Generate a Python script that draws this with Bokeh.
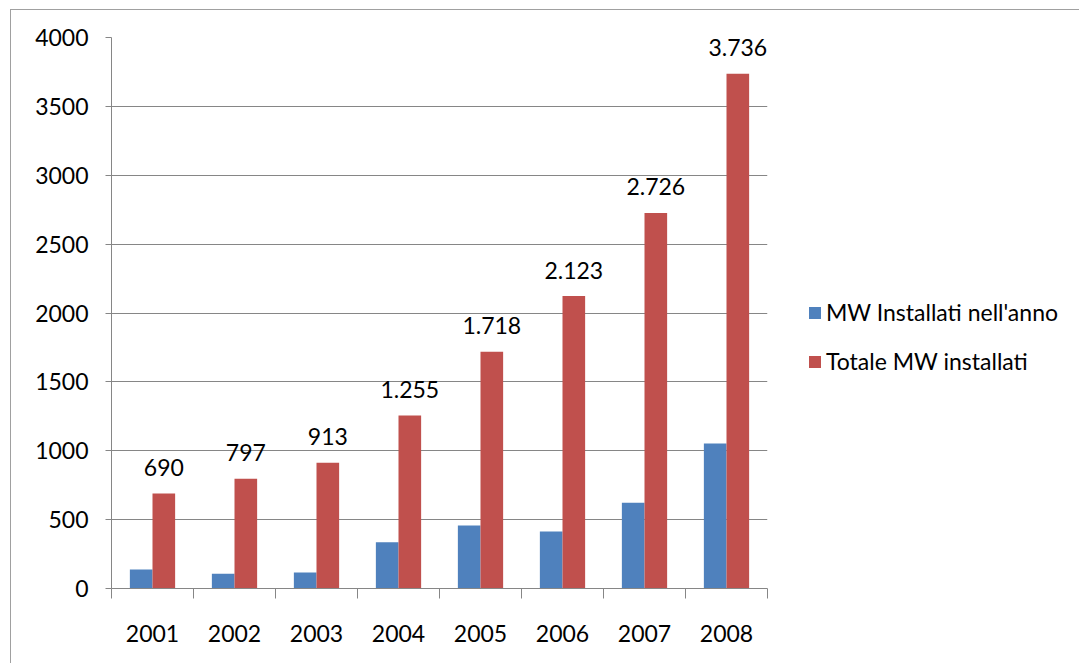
from bokeh.plotting import figure
from bokeh.models import ColumnDataSource, FixedTicker, Legend, LegendItem, Range1d
from bokeh.transform import dodge
from bokeh.core.properties import value
from bokeh.embed import file_html
from bokeh.resources import INLINE

years = ["2001", "2002", "2003", "2004", "2005", "2006", "2007", "2008"]
installed_year = [138, 107, 116, 336, 457, 414, 622, 1052]
total_installed = [690, 797, 913, 1255, 1718, 2123, 2726, 3736]
series_names = ["MW Installati nell'anno", "Totale MW installati"]
y_ticks = [0, 500, 1000, 1500, 2000, 2500, 3000, 3500, 4000]

FONT = "Lato"
FS = "23px"
BLUE = "#4F81BD"
RED = "#C0504D"
GRAY = "#868686"

xpos = [i + 0.5 for i in range(len(years))]
src = ColumnDataSource(dict(
    x=xpos,
    year=years,
    inst=installed_year,
    tot=total_installed,
    lab=[f"{v:,}".replace(",", ".") for v in total_installed],
))

p = figure(
    frame_width=656, frame_height=551,
    x_range=Range1d(0, len(years)), y_range=Range1d(0, 4000),
    output_backend="svg", toolbar_location=None,
    min_border_left=100, min_border_top=27, min_border_right=312, min_border_bottom=75,
    background_fill_color="white", border_fill_color="white",
)
p.styles = {"margin-left": "10px", "margin-top": "9px",
            "border-top": "1px solid #a0a0a0", "border-left": "1px solid #a0a0a0"}
p.outline_line_color = None

bw = 0.276
r1 = p.vbar(x=dodge("x", -bw / 2, range=p.x_range), top="inst", width=bw, source=src,
            fill_color=BLUE, line_color=None)
r2 = p.vbar(x=dodge("x", bw / 2, range=p.x_range), top="tot", width=bw, source=src,
            fill_color=RED, line_color=None)
p.text(x=dodge("x", bw / 2, range=p.x_range), y="tot", text="lab", source=src,
       text_align="center", text_baseline="middle", y_offset=-26,
       text_font=value(FONT), text_font_size=FS, text_color="black")

# axes
p.xaxis.ticker = FixedTicker(ticks=xpos, minor_ticks=list(range(len(years) + 1)))
p.xaxis.major_label_overrides = {x: y for x, y in zip(xpos, years)}
p.xaxis.major_tick_line_color = None
p.xaxis.major_tick_out = 0
p.xaxis.major_tick_in = 0
p.xaxis.minor_tick_out = 10
p.xaxis.minor_tick_in = 0
p.xaxis.minor_tick_line_color = GRAY
p.xaxis.axis_line_color = GRAY
p.xaxis.major_label_standoff = 26
p.xaxis.major_label_text_font = FONT
p.xaxis.major_label_text_font_size = FS
p.xaxis.major_label_text_color = "black"

p.yaxis.ticker = FixedTicker(ticks=y_ticks)
p.yaxis.minor_tick_line_color = None
p.yaxis.major_tick_out = 6
p.yaxis.major_tick_in = 0
p.yaxis.major_tick_line_color = GRAY
p.yaxis.axis_line_color = GRAY
p.yaxis.major_label_standoff = 17
p.yaxis.major_label_text_font = FONT
p.yaxis.major_label_text_font_size = FS
p.yaxis.major_label_text_color = "black"

p.xgrid.grid_line_color = None
p.ygrid.grid_line_color = GRAY
p.ygrid.ticker = FixedTicker(ticks=y_ticks)

legend = Legend(
    items=[LegendItem(label=series_names[0], renderers=[r1]),
           LegendItem(label=series_names[1], renderers=[r2])],
    location=(40, 213), padding=0, margin=0, spacing=21,
    glyph_width=15, glyph_height=15, label_height=15, label_standoff=4,
    label_text_font=FONT, label_text_font_size="23px", label_text_color="black",
    border_line_color=None, background_fill_alpha=0,
)
p.add_layout(legend, "right")

open("out.html", "w").write(file_html(p, INLINE))
